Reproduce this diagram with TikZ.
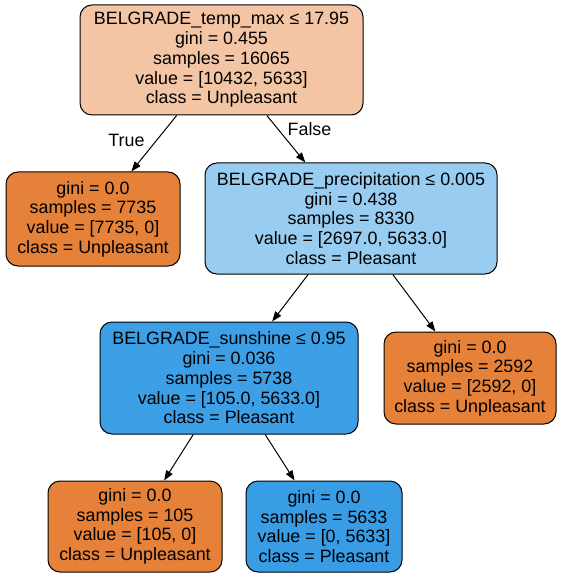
\documentclass[tikz,border=0pt]{standalone}
\usepackage{fontspec}
\setmainfont{Liberation Sans}
\usepackage{xcolor}
\usetikzlibrary{arrows.meta}

\definecolor{rootfill}{HTML}{F3C5A4}
\definecolor{precfill}{HTML}{98CCF1}
\definecolor{unpl}{HTML}{E58139}
\definecolor{pleas}{HTML}{3D9FE6}
\definecolor{pure}{HTML}{399DE5}

\begin{document}
\begin{tikzpicture}[
  x=0.75pt, y=-0.75pt,
  tnode/.style={rectangle, draw, rounded corners=9pt, line width=0.75pt, align=center, inner sep=0pt, font=\fontsize{13.4}{14.8}\selectfont},
  arr/.style={-{Triangle[length=7.5pt, width=5.5pt]}, line width=0.75pt},
  elabel/.style={font=\fontsize{13.4}{14.8}\selectfont}
]
\useasboundingbox (0,0) rectangle (564,577);

\node[tnode, fill=rootfill, minimum width=212.25pt, minimum height=82.5pt] (root) at (221.5,60)
  {BELGRADE\_temp\_max ≤ 17.95\\gini = 0.455\\samples = 16065\\value = [10432, 5633]\\class = Unpleasant};
\node[tnode, fill=unpl, minimum width=130.5pt, minimum height=70.5pt] (lone) at (93,219)
  {gini = 0.0\\samples = 7735\\value = [7735, 0]\\class = Unpleasant};
\node[tnode, fill=precfill, minimum width=219pt, minimum height=83.25pt] (prec) at (351,218.5)
  {BELGRADE\_precipitation ≤ 0.005\\gini = 0.438\\samples = 8330\\value = [2697.0, 5633.0]\\class = Pleasant};
\node[tnode, fill=pleas, minimum width=193.5pt, minimum height=84pt] (sun) at (229,378)
  {BELGRADE\_sunshine ≤ 0.95\\gini = 0.036\\samples = 5738\\value = [105.0, 5633.0]\\class = Pleasant};
\node[tnode, fill=unpl, minimum width=129pt, minimum height=69pt] (ltwo) at (470,378)
  {gini = 0.0\\samples = 2592\\value = [2592, 0]\\class = Unpleasant};
\node[tnode, fill=unpl, minimum width=130.5pt, minimum height=68.25pt] (lthree) at (135,526.5)
  {gini = 0.0\\samples = 105\\value = [105, 0]\\class = Unpleasant};
\node[tnode, fill=pure, minimum width=117pt, minimum height=68.25pt] (lfour) at (324,526.5)
  {gini = 0.0\\samples = 5633\\value = [0, 5633]\\class = Pleasant};

\node[elabel] (ltrue) at (126.5,140) {True};
\node[elabel] (lfalse) at (309.5,129) {False};

\draw[arr] (root) -- (lone);
\draw[arr] (root) -- (prec);
\draw[arr] (prec) -- (sun);
\draw[arr] (prec) -- (ltwo);
\draw[arr] (sun) -- (lthree);
\draw[arr] (sun) -- (lfour);
\end{tikzpicture}
\end{document}
